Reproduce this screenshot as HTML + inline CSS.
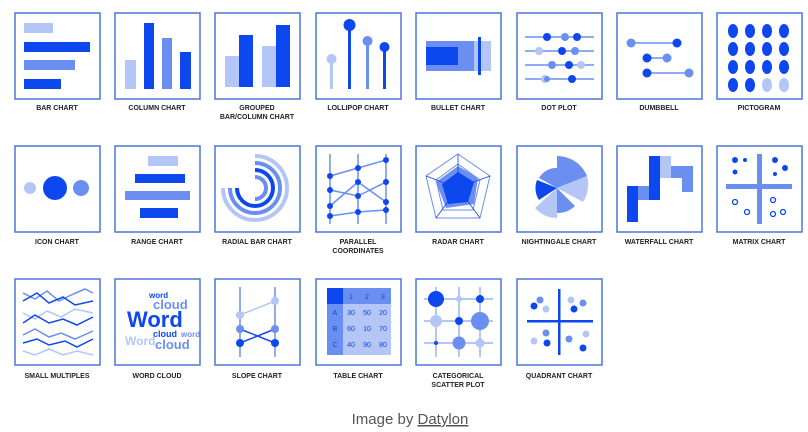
<!DOCTYPE html>
<html><head><meta charset="utf-8"><style>
html,body{margin:0;padding:0;background:#fff;}
svg{display:block}
.l{font-family:"Liberation Sans",sans-serif;font-size:7px;font-weight:bold;fill:#222;text-anchor:middle}
</style></head><body>
<svg width="808" height="432" viewBox="0 0 808 432" xmlns="http://www.w3.org/2000/svg">
<defs>
<style>
.b{fill:#fff;stroke:#4d76da;stroke-width:1.5}
.d{fill:#0d47ee}.m{fill:#6a8ff0}.t{fill:#b3c6f6}
.sd{stroke:#0d47ee;fill:none}.sm{stroke:#6a8ff0;fill:none}.st{stroke:#b3c6f6;fill:none}
</style>
</defs>
<g transform="translate(15,13)"><rect class="b" x="0" y="0" width="85" height="86"/>
<rect class="t" x="9" y="10" width="29" height="10"/><rect class="d" x="9" y="29" width="66" height="10"/><rect class="m" x="9" y="47" width="51" height="10"/><rect class="d" x="9" y="66" width="37" height="10"/></g>
<text class="l" x="57" y="110">BAR CHART</text>

<g transform="translate(115,13)"><rect class="b" x="0" y="0" width="85" height="86"/>
<rect class="t" x="10" y="47" width="11" height="29"/><rect class="d" x="29" y="10" width="10" height="66"/><rect class="m" x="47" y="25" width="10" height="51"/><rect class="d" x="65" y="39" width="11" height="37"/></g>
<text class="l" x="157" y="110">COLUMN CHART</text>

<g transform="translate(215,13)"><rect class="b" x="0" y="0" width="85" height="86"/>
<rect class="t" x="10" y="43" width="14" height="31"/><rect class="d" x="24" y="22" width="14" height="52"/><rect class="t" x="47" y="33" width="14" height="41"/><rect class="d" x="61" y="12" width="14" height="62"/></g>
<text class="l" x="257" y="110">GROUPED</text><text class="l" x="257" y="119">BAR/COLUMN CHART</text>

<g transform="translate(316,13)"><rect class="b" x="0" y="0" width="85" height="86"/>
<rect class="t" x="14" y="46" width="3" height="30"/><circle class="t" cx="15.5" cy="46" r="5"/>
<rect class="d" x="32" y="12" width="3" height="64"/><circle class="d" cx="33.5" cy="12" r="6"/>
<rect class="m" x="50" y="28" width="3" height="48"/><circle class="m" cx="51.5" cy="28" r="5"/>
<rect class="d" x="67" y="34" width="3" height="42"/><circle class="d" cx="68.5" cy="34" r="5"/></g>
<text class="l" x="358" y="110">LOLLIPOP CHART</text>

<g transform="translate(416,13)"><rect class="b" x="0" y="0" width="85" height="86"/>
<rect class="t" x="10" y="28" width="65" height="30"/><rect class="m" x="10" y="28" width="48" height="30"/><rect class="d" x="10" y="34" width="32" height="18"/><rect class="d" x="62" y="24" width="3" height="38"/></g>
<text class="l" x="458" y="110">BULLET CHART</text>

<g transform="translate(517,13)"><rect class="b" x="0" y="0" width="85" height="86"/>
<g stroke-width="1.5"><line class="sm" x1="8" y1="24" x2="77" y2="24"/><line class="sm" x1="8" y1="38" x2="77" y2="38"/><line class="sm" x1="8" y1="52" x2="77" y2="52"/><line class="sm" x1="8" y1="66" x2="77" y2="66"/></g>
<circle class="d" cx="30" cy="24" r="4"/><circle class="m" cx="48" cy="24" r="4"/><circle class="d" cx="60" cy="24" r="4"/>
<circle class="t" cx="22" cy="38" r="4"/><circle class="d" cx="45" cy="38" r="4"/><circle class="m" cx="58" cy="38" r="4"/>
<circle class="m" cx="35" cy="52" r="4"/><circle class="d" cx="52" cy="52" r="4"/><circle class="t" cx="64" cy="52" r="4"/>
<circle class="t" cx="28" cy="66" r="4"/><circle class="m" cx="30" cy="66" r="3"/><circle class="d" cx="55" cy="66" r="4"/></g>
<text class="l" x="559" y="110">DOT PLOT</text>

<g transform="translate(617,13)"><rect class="b" x="0" y="0" width="85" height="86"/>
<g stroke-width="1.5"><line class="sm" x1="14" y1="30" x2="60" y2="30"/><line class="sm" x1="30" y1="45" x2="50" y2="45"/><line class="sm" x1="30" y1="60" x2="72" y2="60"/></g>
<circle class="m" cx="14" cy="30" r="4.5"/><circle class="d" cx="60" cy="30" r="4.5"/><circle class="d" cx="30" cy="45" r="4.5"/><circle class="m" cx="50" cy="45" r="4.5"/><circle class="d" cx="30" cy="60" r="4.5"/><circle class="m" cx="72" cy="60" r="4.5"/></g>
<text class="l" x="659" y="110">DUMBBELL</text>

<g transform="translate(717,13)"><rect class="b" x="0" y="0" width="85" height="86"/>
<g class="d">
<ellipse cx="16" cy="18" rx="5" ry="7"/><ellipse cx="33" cy="18" rx="5" ry="7"/><ellipse cx="50" cy="18" rx="5" ry="7"/><ellipse cx="67" cy="18" rx="5" ry="7"/>
<ellipse cx="16" cy="36" rx="5" ry="7"/><ellipse cx="33" cy="36" rx="5" ry="7"/><ellipse cx="50" cy="36" rx="5" ry="7"/><ellipse cx="67" cy="36" rx="5" ry="7"/>
<ellipse cx="16" cy="54" rx="5" ry="7"/><ellipse cx="33" cy="54" rx="5" ry="7"/><ellipse cx="50" cy="54" rx="5" ry="7"/><ellipse cx="67" cy="54" rx="5" ry="7"/>
<ellipse cx="16" cy="72" rx="5" ry="7"/><ellipse cx="33" cy="72" rx="5" ry="7"/></g>
<ellipse class="t" cx="50" cy="72" rx="5" ry="7"/><ellipse class="t" cx="67" cy="72" rx="5" ry="7"/></g>
<text class="l" x="759" y="110">PICTOGRAM</text>

<g transform="translate(15,146)"><rect class="b" x="0" y="0" width="85" height="86"/>
<circle class="t" cx="15" cy="42" r="6"/><circle class="d" cx="40" cy="42" r="12"/><circle class="m" cx="66" cy="42" r="8"/></g>
<text class="l" x="57" y="244">ICON CHART</text>

<g transform="translate(115,146)"><rect class="b" x="0" y="0" width="85" height="86"/>
<rect class="t" x="33" y="10" width="30" height="10"/><rect class="d" x="20" y="28" width="50" height="9"/><rect class="m" x="10" y="45" width="65" height="9"/><rect class="d" x="25" y="62" width="38" height="10"/></g>
<text class="l" x="157" y="244">RANGE CHART</text>

<g transform="translate(215,146)"><rect class="b" x="0" y="0" width="85" height="86"/>
<g fill="none" stroke-width="4">
<path stroke="#b3c6f6" d="M40 10 A32 32 0 1 1 8 42"/>
<path stroke="#6a8ff0" d="M40 17 A25 25 0 1 1 15 42"/>
<path stroke="#0d47ee" d="M40 24 A18 18 0 1 1 22 42"/>
<path stroke="#6a8ff0" d="M40 31 A11 11 0 0 1 40 53"/></g></g>
<text class="l" x="257" y="244">RADIAL BAR CHART</text>

<g transform="translate(316,146)"><rect class="b" x="0" y="0" width="85" height="86"/>
<g stroke-width="1.5"><line class="sm" x1="14" y1="8" x2="14" y2="78"/><line class="sm" x1="42" y1="8" x2="42" y2="78"/><line class="sm" x1="70" y1="8" x2="70" y2="78"/>
<polyline class="sm" points="14,30 42,22 70,14"/><polyline class="sm" points="14,44 42,50 70,36"/><polyline class="sm" points="14,60 42,36 70,56"/><polyline class="sm" points="14,70 42,66 70,64"/></g>
<g class="d"><circle cx="14" cy="30" r="3"/><circle cx="42" cy="22" r="3"/><circle cx="70" cy="14" r="3"/><circle cx="14" cy="44" r="3"/><circle cx="42" cy="50" r="3"/><circle cx="70" cy="36" r="3"/><circle cx="14" cy="60" r="3"/><circle cx="42" cy="36" r="3"/><circle cx="70" cy="56" r="3"/><circle cx="14" cy="70" r="3"/><circle cx="42" cy="66" r="3"/><circle cx="70" cy="64" r="3"/></g></g>
<text class="l" x="358" y="244">PARALLEL</text><text class="l" x="358" y="253">COORDINATES</text>

<g transform="translate(416,146)"><rect class="b" x="0" y="0" width="85" height="86"/>
<polygon class="sm" points="42,8 74,30 64,72 20,72 10,30"/><polygon class="sm" points="42,18 64,34 57,64 27,64 20,34"/>
<polygon class="m" points="42,20 62,32 58,58 30,62 20,36"/><polygon class="d" points="42,26 58,36 52,56 32,58 26,38"/>
<g stroke="#0d47ee" stroke-width="0.8"><line x1="42" y1="42" x2="42" y2="8"/><line x1="42" y1="42" x2="74" y2="30"/><line x1="42" y1="42" x2="64" y2="72"/><line x1="42" y1="42" x2="20" y2="72"/><line x1="42" y1="42" x2="10" y2="30"/></g></g>
<text class="l" x="458" y="244">RADAR CHART</text>

<g transform="translate(517,146)"><rect class="b" x="0" y="0" width="85" height="86"/>
<path class="m" d="M40 42 L40 10 A32 32 0 0 1 70 30 Z"/><path class="t" d="M40 42 L70 30 A32 32 0 0 1 66 56 Z"/><path class="m" d="M40 42 L58 60 A25 25 0 0 1 40 67 Z"/><path class="t" d="M40 42 L40 72 A30 30 0 0 1 18 62 Z"/><path class="d" d="M40 42 L22 54 A22 22 0 0 1 20 34 Z"/><path class="m" d="M40 42 L22 32 A20 20 0 0 1 40 22 Z"/></g>
<text class="l" x="559" y="244">NIGHTINGALE CHART</text>

<g transform="translate(617,146)"><rect class="b" x="0" y="0" width="85" height="86"/>
<rect class="d" x="10" y="40" width="11" height="36"/><rect class="m" x="21" y="40" width="11" height="14"/><rect class="d" x="32" y="10" width="11" height="44"/><rect class="t" x="43" y="10" width="11" height="22"/><rect class="m" x="54" y="20" width="11" height="12"/><rect class="m" x="65" y="20" width="11" height="26"/></g>
<text class="l" x="659" y="244">WATERFALL CHART</text>

<g transform="translate(717,146)"><rect class="b" x="0" y="0" width="85" height="86"/>
<rect class="m" x="9" y="38" width="66" height="5"/><rect class="m" x="40" y="8" width="5" height="70"/>
<g class="d"><circle cx="18" cy="14" r="3"/><circle cx="28" cy="14" r="2"/><circle cx="18" cy="26" r="2.5"/><circle cx="58" cy="14" r="3"/><circle cx="68" cy="22" r="3"/><circle cx="58" cy="28" r="2"/></g>
<g fill="none" stroke="#0d47ee" stroke-width="1.3"><circle cx="18" cy="56" r="2.5"/><circle cx="30" cy="66" r="2.5"/><circle cx="56" cy="54" r="2.5"/><circle cx="66" cy="66" r="2.5"/><circle cx="56" cy="68" r="2.5"/></g></g>
<text class="l" x="759" y="244">MATRIX CHART</text>

<g transform="translate(15,279)"><rect class="b" x="0" y="0" width="85" height="86"/>
<g stroke-width="1.5"><polyline class="sm" points="8,14 20,20 32,12 44,22 56,16 70,10 78,14"/><polyline class="sd" points="8,22 22,14 34,24 48,18 60,26 78,22"/>
<polyline class="st" points="8,34 20,40 32,32 46,38 60,30 78,34"/><polyline class="sd" points="8,44 20,36 34,44 48,40 62,46 78,38"/>
<polyline class="sm" points="8,56 20,50 34,58 46,54 60,60 78,52"/><polyline class="sd" points="8,64 22,60 34,66 50,62 62,68 78,60"/>
<polyline class="st" points="8,72 20,76 34,70 48,76 62,72 78,76"/></g></g>
<text class="l" x="57" y="378">SMALL MULTIPLES</text>

<g transform="translate(115,279)"><rect class="b" x="0" y="0" width="85" height="86"/>
<g font-family="Liberation Sans,sans-serif" font-weight="bold">
<text x="34" y="19" font-size="8" fill="#0d47ee">word</text><text x="38" y="30" font-size="13" fill="#6a8ff0">cloud</text>
<text x="12" y="48" font-size="22" fill="#0d47ee">Word</text><text x="38" y="58" font-size="9" fill="#0d47ee">cloud</text><text x="66" y="58" font-size="8" fill="#6a8ff0">word</text>
<text x="10" y="66" font-size="12" fill="#b3c6f6">Word</text><text x="40" y="70" font-size="13" fill="#6a8ff0">cloud</text></g></g>
<text class="l" x="157" y="378">WORD CLOUD</text>

<g transform="translate(215,279)"><rect class="b" x="0" y="0" width="85" height="86"/>
<g stroke-width="1.5"><line class="sm" x1="25" y1="8" x2="25" y2="78"/><line class="sm" x1="60" y1="8" x2="60" y2="78"/>
<line class="st" x1="25" y1="36" x2="60" y2="22"/><line class="sd" x1="25" y1="50" x2="60" y2="64"/><line class="sd" x1="25" y1="64" x2="60" y2="50"/></g>
<circle class="t" cx="25" cy="36" r="4"/><circle class="t" cx="60" cy="22" r="4"/><circle class="m" cx="25" cy="50" r="4"/><circle class="d" cx="60" cy="64" r="4"/><circle class="d" cx="25" cy="64" r="4"/><circle class="m" cx="60" cy="50" r="4"/></g>
<text class="l" x="257" y="378">SLOPE CHART</text>

<g transform="translate(316,279)"><rect class="b" x="0" y="0" width="85" height="86"/>
<rect class="t" x="11" y="9" width="64" height="67"/><rect class="m" x="11" y="9" width="64" height="16"/><rect class="m" x="11" y="9" width="16" height="67"/><rect class="d" x="11" y="9" width="16" height="16"/>
<g font-family="Liberation Sans,sans-serif" font-size="7" fill="#0d47ee" text-anchor="middle">
<text x="35" y="20">1</text><text x="51" y="20">2</text><text x="67" y="20">3</text>
<text x="19" y="36">A</text><text x="35" y="36">30</text><text x="51" y="36">50</text><text x="67" y="36">20</text>
<text x="19" y="52">B</text><text x="35" y="52">60</text><text x="51" y="52">10</text><text x="67" y="52">70</text>
<text x="19" y="68">C</text><text x="35" y="68">40</text><text x="51" y="68">90</text><text x="67" y="68">80</text></g></g>
<text class="l" x="358" y="378">TABLE CHART</text>

<g transform="translate(416,279)"><rect class="b" x="0" y="0" width="85" height="86"/>
<g stroke-width="2"><line class="st" x1="8" y1="20" x2="77" y2="20"/><line class="st" x1="8" y1="42" x2="77" y2="42"/><line class="st" x1="8" y1="64" x2="77" y2="64"/><line class="st" x1="20" y1="8" x2="20" y2="78"/><line class="st" x1="43" y1="8" x2="43" y2="78"/><line class="st" x1="64" y1="8" x2="64" y2="78"/></g>
<circle class="d" cx="20" cy="20" r="8"/><circle class="t" cx="43" cy="20" r="3"/><circle class="d" cx="64" cy="20" r="4"/>
<circle class="t" cx="20" cy="42" r="6"/><circle class="d" cx="43" cy="42" r="4"/><circle class="m" cx="64" cy="42" r="9"/>
<circle class="d" cx="20" cy="64" r="2"/><circle class="m" cx="43" cy="64" r="6.5"/><circle class="t" cx="64" cy="64" r="4.5"/></g>
<text class="l" x="458" y="378">CATEGORICAL</text><text class="l" x="458" y="387">SCATTER PLOT</text>

<g transform="translate(517,279)"><rect class="b" x="0" y="0" width="85" height="86"/>
<rect class="d" x="10" y="41" width="66" height="2.5"/><rect class="d" x="41" y="10" width="2.5" height="66"/>
<circle class="d" cx="17" cy="27" r="3.5"/><circle class="m" cx="23" cy="21" r="3.5"/><circle class="t" cx="29" cy="30" r="3.5"/>
<circle class="t" cx="54" cy="21" r="3.5"/><circle class="d" cx="57" cy="30" r="3.5"/><circle class="m" cx="66" cy="24" r="3.5"/>
<circle class="m" cx="29" cy="54" r="3.5"/><circle class="t" cx="17" cy="62" r="3.5"/><circle class="d" cx="30" cy="64" r="3.5"/>
<circle class="m" cx="52" cy="60" r="3.5"/><circle class="t" cx="69" cy="55" r="3.5"/><circle class="d" cx="66" cy="69" r="3.5"/></g>
<text class="l" x="559" y="378">QUADRANT CHART</text>

<text x="410" y="424" font-family="Liberation Sans,sans-serif" font-size="15" fill="#555" text-anchor="middle">Image by <tspan text-decoration="underline">Datylon</tspan></text>
</svg>
</body></html>
